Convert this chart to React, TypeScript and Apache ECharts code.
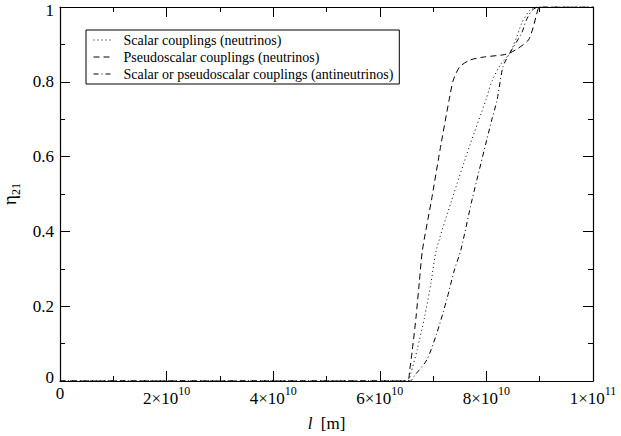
import React, { useEffect, useRef } from "react";
import * as echarts from "echarts";

// Tick values and labels
const xTickValues = [0, 2e10, 4e10, 6e10, 8e10, 1e11];
const xTickMantissa = ["0", "2×10", "4×10", "6×10", "8×10", "1×10"];
const xTickExponent = ["", "10", "10", "10", "10", "11"];
const yTickLabels = ["0", "0.2", "0.4", "0.6", "0.8", "1"];

const seriesNames = [
  "Scalar couplings (neutrinos)",
  "Pseudoscalar couplings (neutrinos)",
  "Scalar or pseudoscalar couplings (antineutrinos)",
];

// Scalar couplings (neutrinos): l [m], eta21
const scalarL = [0, 6.52e10, 6.58e10, 6.7e10, 6.84e10, 6.96e10, 7.06e10, 7.35e10, 7.69e10, 7.99e10, 8.1e10, 8.26e10, 8.44e10, 8.57e10, 8.66e10, 8.79e10, 8.91e10, 1e11];
const scalarEta = [0, 0, 0.02, 0.083, 0.171, 0.262, 0.35, 0.484, 0.631, 0.751, 0.8, 0.845, 0.877, 0.92, 0.956, 0.987, 1, 1];

// Pseudoscalar couplings (neutrinos)
const pseudoL = [0, 6.51e10, 6.56e10, 6.61e10, 6.68e10, 6.74e10, 6.8e10, 6.97e10, 7.13e10, 7.3e10, 7.38e10, 7.5e10, 7.69e10, 7.94e10, 8.31e10, 8.44e10, 8.6e10, 8.79e10, 8.88e10, 8.94e10, 9.0e10, 1e11];
const pseudoEta = [0, 0, 0.029, 0.083, 0.171, 0.262, 0.35, 0.484, 0.618, 0.751, 0.805, 0.84, 0.858, 0.866, 0.872, 0.877, 0.89, 0.912, 0.947, 0.979, 1, 1];

// Scalar or pseudoscalar couplings (antineutrinos)
const antiL = [0, 6.57e10, 6.66e10, 6.88e10, 7.07e10, 7.255e10, 7.4e10, 7.52e10, 7.73e10, 8.1e10, 8.2e10, 8.31e10, 8.44e10, 8.66e10, 8.75e10, 8.85e10, 8.97e10, 1e11];
const antiEta = [0, 0, 0.016, 0.056, 0.128, 0.217, 0.297, 0.35, 0.484, 0.698, 0.751, 0.84, 0.877, 0.93, 0.965, 0.99, 1, 1];

const FONT = "'Liberation Serif', 'Times New Roman', serif";

function pairs(xs: number[], ys: number[]) {
  return xs.map((x, i) => [x, ys[i]]);
}

export default function App() {
  const ref = useRef<HTMLDivElement>(null);

  useEffect(() => {
    if (!ref.current) return;
    const chart = echarts.init(ref.current, null, { renderer: "svg" });

    const commonX = {
      type: "value",
      min: 0,
      max: 1e11,
      interval: 2e10,
      splitLine: { show: false },
      axisLine: { show: true, onZero: false, lineStyle: { color: "#000", width: 1.2 } },
      axisTick: { show: true, inside: true, length: 10, lineStyle: { color: "#000", width: 1 } },
      minorTick: { show: true, splitNumber: 2, length: 5, lineStyle: { color: "#000", width: 1 } },
      minorSplitLine: { show: false },
    };
    const commonY = {
      type: "value",
      min: 0,
      max: 1,
      interval: 0.2,
      splitLine: { show: false },
      axisLine: { show: true, onZero: false, lineStyle: { color: "#000", width: 1.2 } },
      axisTick: { show: true, inside: true, length: 10, lineStyle: { color: "#000", width: 1 } },
      minorTick: { show: true, splitNumber: 2, length: 5, lineStyle: { color: "#000", width: 1 } },
      minorSplitLine: { show: false },
    };

    const lineStyles = [
      { color: "#000", width: 1, type: [1, 3] },
      { color: "#000", width: 1, type: [6, 4] },
      { color: "#000", width: 1, type: [5, 3, 1, 3] },
    ];
    const datas = [pairs(scalarL, scalarEta), pairs(pseudoL, pseudoEta), pairs(antiL, antiEta)];

    chart.setOption({
      animation: false,
      backgroundColor: "#fff",
      textStyle: { fontFamily: FONT, color: "#000" },
      grid: { left: 60, right: 28, top: 7, bottom: 55, containLabel: false, outerBoundsMode: "none" },
      legend: {
        orient: "vertical",
        left: 86,
        top: 30,
        padding: [3, 6, 3, 7],
        itemGap: 3,
        itemWidth: 20,
        itemHeight: 14,
        borderColor: "#000",
        borderWidth: 1,
        backgroundColor: "#fff",
        data: seriesNames,
        itemStyle: { color: "rgba(0,0,0,0)", borderWidth: 0, opacity: 0 },
        lineStyle: { color: "#000", width: 1 },
        textStyle: { fontFamily: FONT, fontSize: 14, color: "#000", padding: [0, 0, 0, 5] },
      },
      xAxis: [
        {
          ...commonX,
          position: "bottom",
          name: "{i|l}{n|  [m]}",
          nameLocation: "middle",
          nameGap: 34,
          nameTextStyle: {
            fontFamily: FONT,
            rich: {
              i: { fontFamily: FONT, fontSize: 17, fontStyle: "italic", color: "#000" },
              n: { fontFamily: FONT, fontSize: 17, color: "#000" },
            },
          },
          axisLabel: {
            margin: 4,
            fontFamily: FONT,
            showMinLabel: false,
            alignMaxLabel: "center",
            formatter: (v: number) => {
              const i = xTickValues.findIndex((t) => Math.abs(t - v) < 1e6);
              if (i <= 0) return "";
              return `{a|${xTickMantissa[i]}}{s|${xTickExponent[i]}}`;
            },
            rich: {
              a: { fontFamily: FONT, fontSize: 17, color: "#000", lineHeight: 22, verticalAlign: "bottom" },
              s: { fontFamily: FONT, fontSize: 12, color: "#000", lineHeight: 12, verticalAlign: "top" },
            },
          },
        },
        {
          ...commonX,
          position: "top",
          axisLabel: { show: false },
        },
      ],
      yAxis: [
        {
          ...commonY,
          position: "left",
          name: "{e|η}{s|21}",
          nameLocation: "middle",
          nameRotate: 90,
          nameGap: 38,
          nameTextStyle: {
            fontFamily: FONT,
            rich: {
              e: { fontFamily: FONT, fontSize: 19, color: "#000", lineHeight: 22, verticalAlign: "top" },
              s: { fontFamily: FONT, fontSize: 12, color: "#000", lineHeight: 12, verticalAlign: "bottom" },
            },
          },
          axisLabel: {
            margin: 6,
            fontFamily: FONT,
            fontSize: 17,
            color: "#000",
            formatter: (v: number) => {
              const i = Math.round(v / 0.2);
              if (i === 0) return `{z|${yTickLabels[0]}}`;
              if (i === yTickLabels.length - 1) return `{t|${yTickLabels[i]}}`;
              return yTickLabels[i] ?? "";
            },
            rich: {
              z: { fontFamily: FONT, fontSize: 17, color: "#000", padding: [0, 0, 8, 0] },
              t: { fontFamily: FONT, fontSize: 17, color: "#000", padding: [7, 0, 0, 0] },
            },
          },
        },
        {
          ...commonY,
          position: "right",
          axisLabel: { show: false },
        },
      ],
      series: seriesNames.map((name, k) => ({
        name,
        type: "line",
        xAxisIndex: 0,
        yAxisIndex: 0,
        symbol: "none",
        showSymbol: false,
        smooth: 0.25,
        clip: true,
        lineStyle: lineStyles[k],
        itemStyle: { color: "#000" },
        data: datas[k],
      })),
    });

    // x-axis origin label "0", placed through the axis scale
    const origin = chart.convertToPixel({ xAxisIndex: 0, yAxisIndex: 0 }, [xTickValues[0], 0]) as number[];
    if (origin) {
      chart.setOption({
        graphic: [
          {
            type: "text",
            x: origin[0],
            y: origin[1] + 4,
            style: {
              text: xTickMantissa[0],
              font: `17px ${FONT}`,
              fill: "#000",
              align: "center",
              verticalAlign: "top",
            },
          },
        ],
      });
    }

    return () => chart.dispose();
  }, []);

  return (
    <div
      ref={ref}
      style={{ position: "fixed", left: 0, top: 0, width: 621, height: 436, background: "#fff" }}
    />
  );
}
